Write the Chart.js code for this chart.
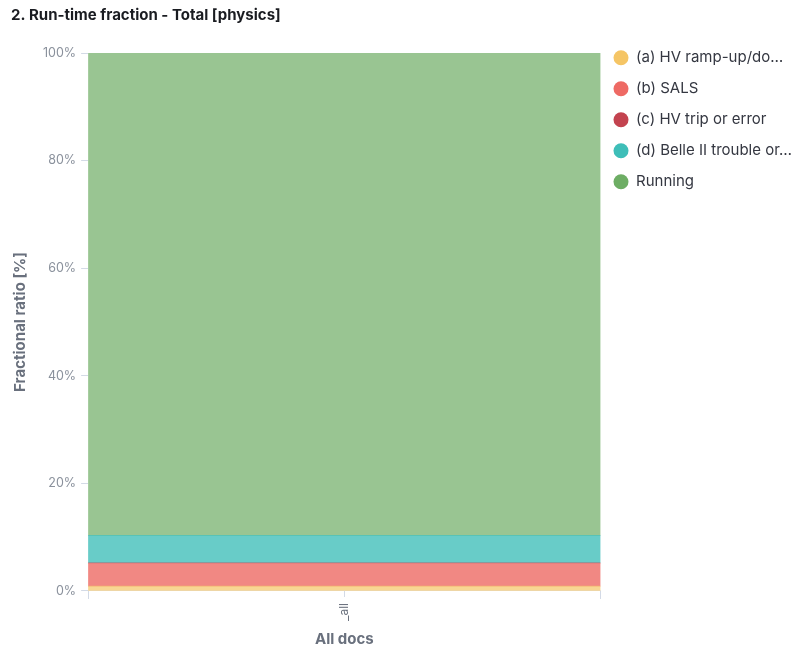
<!DOCTYPE html>
<html>
<head>
<meta charset="utf-8">
<script src="https://cdn.jsdelivr.net/npm/chart.js@4.4.1/dist/chart.umd.min.js"></script>
<style>
  html, body { margin: 0; padding: 0; background: #ffffff; }
  #wrap { width: 797px; height: 650px; position: relative; }
</style>
</head>
<body>
<div id="wrap"><canvas id="c"></canvas></div>
<script>
// Run-time fraction per state, in percent of total physics time
const categories = ['_all'];
const seriesNames = [
  '(a) HV ramp-up/do\u2026',
  '(b) SALS',
  '(c) HV trip or error',
  '(d) Belle II trouble or\u2026',
  'Running'
];
const rampUpDown = [0.9];
const sals = [4.2];
const hvTrip = [0.15];
const belleTrouble = [5.1];
const running = [89.65];
const yTicks = [0, 20, 40, 60, 80, 100];

const seriesValues = [rampUpDown, sals, hvTrip, belleTrouble, running];
const legendColors = ['#F5C565', '#EE6A64', '#C3434F', '#3EBEB8', '#6DAD64'];
const barColors = ['rgba(245,197,101,0.7)', 'rgba(238,106,100,0.8)', 'rgba(195,67,79,0.7)', 'rgba(62,190,184,0.78)', 'rgba(109,173,100,0.7)'];

const datasets = seriesNames.map((name, i) => ({
  label: name,
  data: seriesValues[i],
  backgroundColor: barColors[i],
  borderWidth: 0,
  barPercentage: 1,
  categoryPercentage: 1,
  pointStyle: 'circle'
}));

// small tick under the category label
const centerTick = {
  id: 'centerTick',
  afterDraw(chart) {
    const x = chart.scales.x;
    const ctx = chart.ctx;
    ctx.save();
    ctx.strokeStyle = '#D3DAE6';
    ctx.lineWidth = 1;
    categories.forEach((c, i) => {
      const px = Math.round(x.getPixelForValue(i)) + 0.5;
      ctx.beginPath();
      ctx.moveTo(px, x.top);
      ctx.lineTo(px, x.top + 6);
      ctx.stroke();
    });
    ctx.restore();
  }
};

// pull the legend a little closer to the plot
const legendNudge = {
  id: 'legendNudge',
  afterLayout(chart) {
    const lg = chart.legend;
    if (!lg) return;
    const shift = 3;
    lg.left -= shift;
    lg.right -= shift;
  }
};

new Chart(document.getElementById('c'), {
  type: 'bar',
  data: { labels: categories, datasets },
  plugins: [centerTick, legendNudge],
  options: {
    responsive: true,
    maintainAspectRatio: false,
    animation: false,
    layout: { padding: { left: 11, right: 0, top: 0, bottom: 2 } },
    plugins: {
      title: {
        display: true,
        text: '2. Run-time fraction - Total [physics]',
        align: 'start',
        color: '#1A1C21',
        font: { family: 'Inter', size: 15, weight: 'bold' },
        padding: { top: 6, bottom: 29 }
      },
      legend: {
        position: 'right',
        align: 'start',
        title: { display: true, text: ' ', font: { size: 1 }, padding: { top: 33, bottom: 0 } },
        labels: {
          usePointStyle: true,
          boxWidth: 15,
          boxHeight: 10.6,
          padding: 16,
          color: '#343741',
          font: { family: 'Inter', size: 15 },
          generateLabels(chart) {
            return chart.data.datasets.map((d, i) => ({
              text: d.label,
              fillStyle: legendColors[i],
              strokeStyle: legendColors[i],
              lineWidth: 0,
              pointStyle: 'circle',
              fontColor: '#343741',
              datasetIndex: i,
              hidden: false
            }));
          }
        }
      },
      tooltip: { enabled: false }
    },
    scales: {
      x: {
        stacked: true,
        offset: true,
        grid: { display: true, drawOnChartArea: false, offset: true, tickLength: 8, color: '#D3DAE6' },
        border: { display: true, color: '#E6E9EF' },
        ticks: {
          color: '#69707D',
          font: { family: 'Inter', size: 12 },
          minRotation: 90,
          maxRotation: 90,
          padding: 4
        },
        title: {
          display: true,
          text: 'All docs',
          color: '#69707D',
          font: { family: 'Inter', size: 15, weight: 'bold' },
          padding: { top: 5, bottom: 0 }
        }
      },
      y: {
        stacked: true,
        min: 0,
        max: 100,
        afterBuildTicks(scale) { scale.ticks = yTicks.map(v => ({ value: v })); },
        grid: { display: true, drawOnChartArea: false, tickLength: 7, color: '#D3DAE6' },
        border: { display: false },
        ticks: {
          color: '#8A919C',
          font: { family: 'Inter', size: 12.5 },
          padding: 5,
          callback: v => v + '%'
        },
        title: {
          display: true,
          text: 'Fractional ratio [%]',
          color: '#69707D',
          font: { family: 'Inter', size: 15, weight: 'bold' },
          padding: { top: 0, bottom: 9 }
        }
      }
    }
  }
});
</script>
</body>
</html>
